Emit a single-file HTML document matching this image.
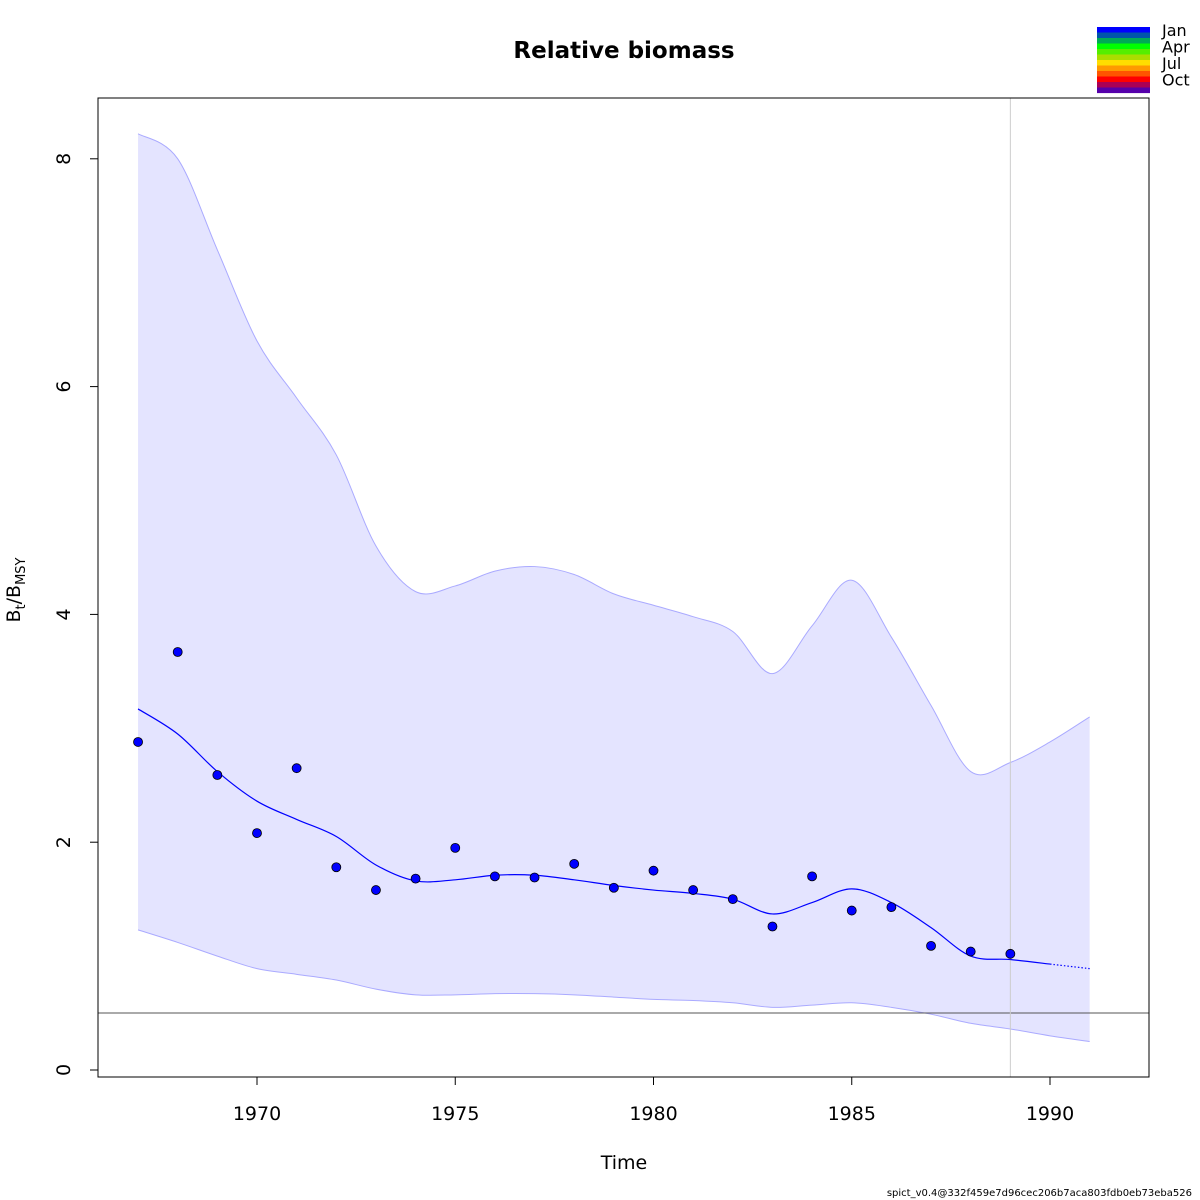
<!DOCTYPE html>
<html><head><meta charset="utf-8"><style>body{margin:0;background:#fff}svg{display:block;font-family:"DejaVu Sans","Liberation Sans",sans-serif}</style></head>
<body>
<svg id="c" width="1200" height="1200" viewBox="0 0 1200 1200">
<rect width="1200" height="1200" fill="#fff"/>
<text x="624" y="58" text-anchor="middle" font-size="23" font-weight="bold">Relative biomass</text>
<g id="legend"></g>
<g id="plot"></g>
<rect x="98" y="98" width="1051" height="979" fill="none" stroke="#000" stroke-width="1"/>
<text x="624" y="1169" text-anchor="middle" font-size="19">Time</text>
<text transform="translate(20,590) rotate(-90)" text-anchor="middle" font-size="19">B<tspan font-size="13" dy="5">t</tspan><tspan dy="-5">/B</tspan><tspan font-size="13" dy="5">MSY</tspan></text>
<text x="1192" y="1196" text-anchor="end" font-size="10">spict_v0.4@332f459e7d96cec206b7aca803fdb0eb73eba526</text>
</svg>
<script>
const years=[1967,1968,1969,1970,1971,1972,1973,1974,1975,1976,1977,1978,1979,1980,1981,1982,1983,1984,1985,1986,1987,1988,1989];
const obs=[2.88,3.67,2.59,2.08,2.65,1.78,1.58,1.68,1.95,1.70,1.69,1.81,1.60,1.75,1.58,1.50,1.26,1.70,1.40,1.43,1.09,1.04,1.02];
const estYears=[1967,1968,1969,1970,1971,1972,1973,1974,1975,1976,1977,1978,1979,1980,1981,1982,1983,1984,1985,1986,1987,1988,1989,1990,1991];
const est=[3.17,2.95,2.62,2.36,2.20,2.05,1.80,1.66,1.67,1.71,1.71,1.67,1.62,1.58,1.55,1.50,1.37,1.47,1.59,1.47,1.25,1.00,0.97,0.93,0.89];
const upper=[8.22,8.0,7.2,6.4,5.9,5.4,4.6,4.2,4.25,4.38,4.42,4.35,4.18,4.08,3.98,3.85,3.48,3.9,4.3,3.8,3.2,2.62,2.7,2.88,3.1];
const lower=[1.23,1.12,1.0,0.89,0.84,0.79,0.71,0.66,0.66,0.67,0.67,0.66,0.64,0.62,0.61,0.59,0.55,0.57,0.59,0.55,0.49,0.41,0.36,0.30,0.25];
const xTicks=[1970,1975,1980,1985,1990];
const yTicks=[0,2,4,6,8];
const refLevel=0.5, lastObsYear=1989, forecastStart=1990;
const months=["Jan","Apr","Jul","Oct"];
const bandColors=["#0000ff","#0055aa","#00aa55","#00ff00","#55ee00","#aadd00","#ffdd00","#ff9900","#ff5500","#ff0000","#aa0055","#5500aa"];
const X=y=>257+(y-1970)*39.65, Y=v=>1070-v*113.9;
const NS="http://www.w3.org/2000/svg";
const plot=document.getElementById('plot');
function mk(t,a,p){const e=document.createElementNS(NS,t);for(const k in a)e.setAttribute(k,a[k]);(p||plot).appendChild(e);return e;}
function smooth(pts){let d="M"+pts[0][0]+","+pts[0][1];for(let i=0;i<pts.length-1;i++){const p0=pts[Math.max(i-1,0)],p1=pts[i],p2=pts[i+1],p3=pts[Math.min(i+2,pts.length-1)];d+=" C"+(p1[0]+(p2[0]-p0[0])/6)+","+(p1[1]+(p2[1]-p0[1])/6)+" "+(p2[0]-(p3[0]-p1[0])/6)+","+(p2[1]-(p3[1]-p1[1])/6)+" "+p2[0]+","+p2[1];}return d;}
const up=estYears.map((y,i)=>[X(y),Y(upper[i])]), lo=estYears.map((y,i)=>[X(y),Y(lower[i])]).reverse();
let band=mk('path',{d:smooth(up)+" L"+smooth(lo).slice(1)+" Z",fill:"#e4e4ff",stroke:"none"});


let ub=mk('path',{d:smooth(up),fill:"none",stroke:"#aaaaff","stroke-width":1});


let lb=mk('path',{d:smooth(lo),fill:"none",stroke:"#aaaaff","stroke-width":1});


let hl=mk('line',{x1:98,x2:1149,y1:Y(refLevel),y2:Y(refLevel),stroke:"#555","stroke-width":1});


let vl=mk('line',{x1:X(lastObsYear),x2:X(lastObsYear),y1:98,y2:1077,stroke:"#ccc","stroke-width":1});


const all=estYears.map((y,i)=>[X(y),Y(est[i])]);
const fi=estYears.indexOf(forecastStart);
let el=mk('path',{d:smooth(all.slice(0,fi+1)),fill:"none",stroke:"#0000ff","stroke-width":1.2});


let fl=mk('path',{d:smooth(all.slice(fi)),fill:"none",stroke:"#0000ff","stroke-width":1.2,"stroke-dasharray":"1.5,2"});


years.forEach((y,i)=>{const c=mk('circle',{cx:X(y),cy:Y(obs[i]),r:4.5,fill:"#0000ff",stroke:"#000","stroke-width":0.8});

});
xTicks.forEach(t=>{const l=mk('line',{x1:X(t),x2:X(t),y1:1077,y2:1085,stroke:"#000"});


const tx=mk('text',{x:X(t),y:1120,"text-anchor":"middle","font-size":19});tx.textContent=t;

});
yTicks.forEach(t=>{const l=mk('line',{x1:90,x2:98,y1:Y(t),y2:Y(t),stroke:"#000"});


const tx=mk('text',{transform:`translate(70,${Y(t)}) rotate(-90)`,"text-anchor":"middle","font-size":19});tx.textContent=t;

});
const lg=document.getElementById('legend');
bandColors.forEach((c,i)=>{const r=mk('rect',{x:1097,y:27+i*5.5,width:53,height:5.6,fill:c},lg);

});
months.forEach((m,i)=>{const t=mk('text',{x:1162,y:36+i*16.5,"font-size":16},lg);t.textContent=m;

});
</script>
</body></html>
